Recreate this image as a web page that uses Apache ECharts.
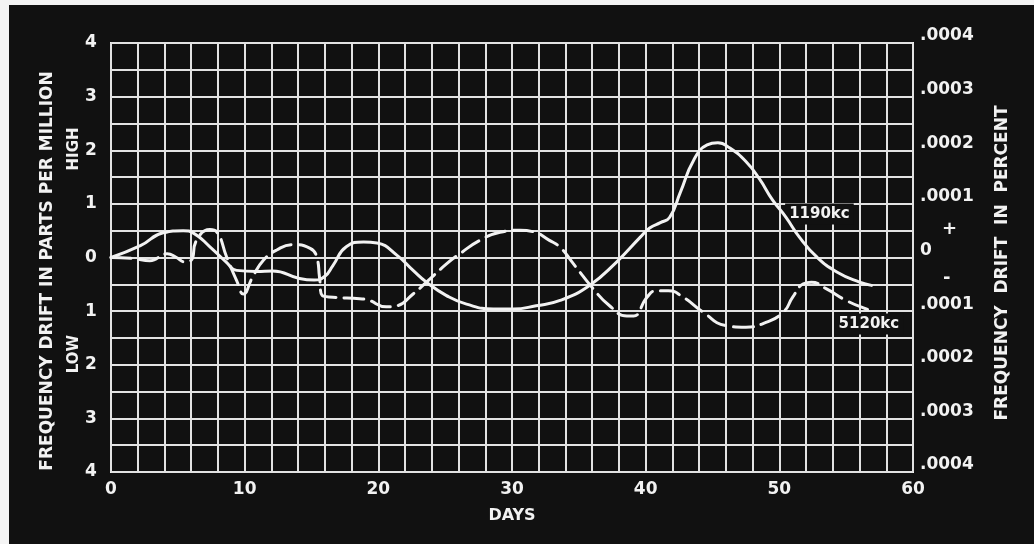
<!DOCTYPE html>
<html>
<head>
<meta charset="utf-8">
<script src="https://cdn.jsdelivr.net/npm/echarts@6/dist/echarts.min.js"></script>
<style>
  html, body { margin: 0; padding: 0; background: #f4f4f4; }
  #chart { width: 1034px; height: 544px; }
</style>
</head>
<body>
<div id="chart"></div>
<script>
// Frequency drift of two crystal-controlled transmitters over ~57 days (parts per million)
const days1190 = [0, 2.2, 3.9, 5.4, 6.2, 7.4, 8.6, 9.4, 10.9, 12.1, 14.1, 15.2, 16.0, 16.6, 17.6, 18.9, 19.9, 21.4, 22.6, 23.6, 25.1, 26.6, 28.6, 30.1, 31.8, 33.6, 35.8, 37.8, 39.6, 40.3, 41.1, 41.8, 42.6, 43.6, 44.6, 45.4, 46.3, 47.5, 48.5, 49.5, 50.5, 51.5, 52.8, 54.3, 56.0, 56.9];
const ppm1190  = [0, 0.22, 0.46, 0.50, 0.45, 0.20, -0.08, -0.24, -0.26, -0.25, -0.39, -0.42, -0.35, -0.15, 0.20, 0.29, 0.27, 0.04, -0.24, -0.46, -0.71, -0.87, -0.96, -0.96, -0.90, -0.80, -0.52, -0.09, 0.38, 0.55, 0.65, 0.75, 1.22, 1.82, 2.10, 2.14, 2.04, 1.79, 1.47, 1.07, 0.75, 0.38, 0.01, -0.27, -0.46, -0.52];

const days5120 = [0, 1.7, 2.9, 4.2, 4.9, 5.5, 6.0, 6.4, 7.4, 7.9, 8.65, 9.4, 9.9, 10.6, 11.4, 12.4, 13.6, 14.9, 15.4, 15.6, 15.8, 16.6, 18.6, 19.2, 20.6, 21.4, 22.6, 23.6, 25.1, 26.1, 27.6, 29.1, 30.6, 31.6, 32.8, 33.6, 34.6, 36.0, 37.3, 38.6, 39.1, 40.1, 40.8, 41.7, 42.8, 44.3, 46.0, 47.5, 49.0, 50.3, 51.0, 51.8, 52.4, 53.5, 55.0, 56.5, 57.0];
const ppm5120  = [0, -0.02, -0.06, 0.07, 0.0, -0.08, -0.05, 0.32, 0.52, 0.48, 0.01, -0.43, -0.68, -0.36, -0.05, 0.14, 0.24, 0.17, 0.0, -0.37, -0.71, -0.74, -0.77, -0.79, -0.92, -0.90, -0.68, -0.46, -0.12, 0.07, 0.32, 0.47, 0.51, 0.48, 0.32, 0.19, -0.12, -0.56, -0.90, -1.09, -1.09, -0.74, -0.62, -0.62, -0.74, -1.02, -1.27, -1.30, -1.21, -1.02, -0.74, -0.49, -0.46, -0.58, -0.80, -0.96, -0.99];

// Curve labels, placed in data units
const label1190 = [53.0, 0.81];
const label5120 = [56.7, -1.24];

// Right-hand scale: parts per million expressed as percent
const percentTicks = { 4: '.0004', 3: '.0003', 2: '.0002', 1: '.0001', 0: '0' };

const FONT = 'DejaVu Sans';
const INK = '#f2f2f2';
const BG = '#111111';

const chart = echarts.init(document.getElementById('chart'));

function pairs(xs, ys) { return xs.map((x, i) => [x, ys[i]]); }

function curve(name, xs, ys, dashed, at) {
  return {
    name: name,
    type: 'line',
    data: pairs(xs, ys),
    yAxisIndex: 0,
    smooth: 0.5,
    symbol: 'none',
    lineStyle: { color: INK, width: 3, type: dashed ? [20, 8] : 'solid', cap: 'round', join: 'round' },
    z: 5,
    markPoint: {
      symbol: 'circle',
      symbolSize: 1,
      itemStyle: { color: 'rgba(0,0,0,0)' },
      silent: true,
      label: {
        show: true,
        position: 'inside',
        formatter: name,
        color: INK,
        fontFamily: FONT,
        fontWeight: 'bold',
        fontSize: 15,
        backgroundColor: BG,
        padding: [3, 4]
      },
      data: [{ coord: at }]
    }
  };
}

const option = {
  backgroundColor: BG,
  animation: false,
  grid: { left: 111, right: 121, top: 43, bottom: 72, show: true, borderColor: INK, borderWidth: 2 },
  xAxis: {
    type: 'value',
    min: 0, max: 60, interval: 2,
    name: 'DAYS',
    nameLocation: 'middle',
    nameGap: 36,
    nameTextStyle: { color: INK, fontFamily: FONT, fontWeight: 'bold', fontSize: 16 },
    axisLine: { show: false },
    axisTick: { show: false },
    axisLabel: {
      color: INK, fontFamily: FONT, fontWeight: 'bold', fontSize: 17, margin: 9,
      formatter: v => (v % 10 === 0 ? String(v) : '')
    },
    splitLine: { show: true, lineStyle: { color: '#e2e2e2', width: 2 } }
  },
  yAxis: [
    {
      type: 'value',
      min: -4, max: 4, interval: 0.5,
      position: 'left',
      axisLine: { show: false },
      axisTick: { show: false },
      axisLabel: {
        color: INK, fontFamily: FONT, fontWeight: 'bold', fontSize: 17,
        margin: 20, align: 'center', padding: [0, 0, 14, 0],
        formatter: v => (Number.isInteger(v) ? String(Math.abs(v)) : '')
      },
      splitLine: { show: true, lineStyle: { color: '#e2e2e2', width: 2 } }
    },
    {
      type: 'value',
      min: -4, max: 4, interval: 0.5,
      position: 'right',
      axisLine: { show: false },
      axisTick: { show: false },
      splitLine: { show: false },
      axisLabel: {
        color: INK, fontFamily: FONT, fontWeight: 'bold', fontSize: 17,
        margin: 7, align: 'left',
        formatter: v => {
          if (Number.isInteger(v)) return '{n|' + percentTicks[Math.abs(v)] + '}';
          if (v === 0.5) return '{p|+}';
          if (v === -0.5) return '{m|-}';
          return '';
        },
        rich: {
          n: { color: INK, fontFamily: FONT, fontWeight: 'bold', fontSize: 17, padding: [0, 0, 14, 0] },
          p: { color: INK, fontFamily: FONT, fontWeight: 'bold', fontSize: 18, padding: [0, 0, 2, 22] },
          m: { color: INK, fontFamily: FONT, fontWeight: 'bold', fontSize: 18, padding: [0, 0, 12, 23] }
        }
      }
    }
  ],
  graphic: [
    { type: 'rect', shape: { x: 0, y: 0, width: 1034, height: 5 }, style: { fill: '#f4f4f4' }, silent: true },
    { type: 'rect', shape: { x: 0, y: 0, width: 9, height: 544 }, style: { fill: '#f4f4f4' }, silent: true },
    {
      type: 'text', x: 48, y: 271, rotation: Math.PI / 2,
      style: { text: 'FREQUENCY DRIFT IN PARTS PER MILLION', fill: INK, font: 'bold 17px "DejaVu Sans"', textAlign: 'center', textVerticalAlign: 'middle' }
    },
    {
      type: 'text', x: 1003, y: 263, rotation: Math.PI / 2,
      style: { text: 'FREQUENCY  DRIFT  IN  PERCENT', fill: INK, font: 'bold 17px "DejaVu Sans"', textAlign: 'center', textVerticalAlign: 'middle' }
    },
    {
      type: 'text', x: 74, y: 149, rotation: Math.PI / 2,
      style: { text: 'HIGH', fill: INK, font: 'bold 15px "DejaVu Sans"', textAlign: 'center', textVerticalAlign: 'middle' }
    },
    {
      type: 'text', x: 74, y: 354, rotation: Math.PI / 2,
      style: { text: 'LOW', fill: INK, font: 'bold 15px "DejaVu Sans"', textAlign: 'center', textVerticalAlign: 'middle' }
    }
  ],
  series: [
    curve('1190kc', days1190, ppm1190, false, label1190),
    curve('5120kc', days5120, ppm5120, true, label5120)
  ]
};

chart.setOption(option);
</script>
</body>
</html>
